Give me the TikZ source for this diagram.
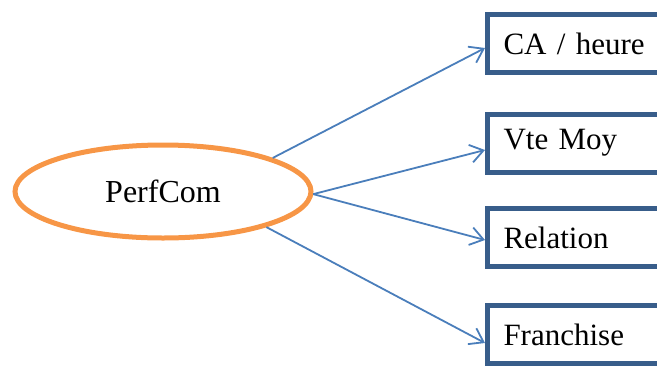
\documentclass[tikz,border=0pt]{standalone}
\usepackage{fontspec}
\setmainfont{Liberation Serif}
\usetikzlibrary{arrows.meta,shapes.geometric}
\definecolor{perforange}{HTML}{F79646}
\definecolor{boxblue}{HTML}{385D8A}
\definecolor{lineblue}{HTML}{4A7EBB}
\tikzset{
    critbox/.style={draw=boxblue, line width=5pt, anchor=west, minimum height=58pt,
        text width=170pt, align=left, inner xsep=16pt, font=\fontsize{31}{37}\selectfont},
    link/.style={draw=lineblue, line width=1.8pt, -{Straight Barb[length=13pt,width=18pt,line width=1.8pt]}}
}
\begin{document}
\begin{tikzpicture}[x=1pt,y=-1pt]
            \useasboundingbox (0,0) rectangle (657,365);
            \clip (0,0) rectangle (657,365);

            \node[draw=perforange, line width=5pt, ellipse, minimum width=296pt, minimum height=93pt,
                font=\fontsize{32}{38}\selectfont] (perf) at (163,191.5) {PerfCom};

            \node[critbox] (ca) at (485,43.5) {CA / heure};
            \node[critbox] (vte) at (485,143) {Vte Moy};
            \node[critbox] (rel) at (485,237.5) {Relation};
            \node[critbox] (fra) at (485,334.5) {Franchise};

            \draw[link] (perf.17) to ([yshift=-4.5pt]ca.west);
            \draw[link] (perf.-1) to ([yshift=-7pt]vte.west);
            \draw[link] (perf.-1) to ([yshift=-2.5pt]rel.west);
            \draw[link] (perf.-19) to ([yshift=-8.5pt]fra.west);
        \end{tikzpicture}
\end{document}
